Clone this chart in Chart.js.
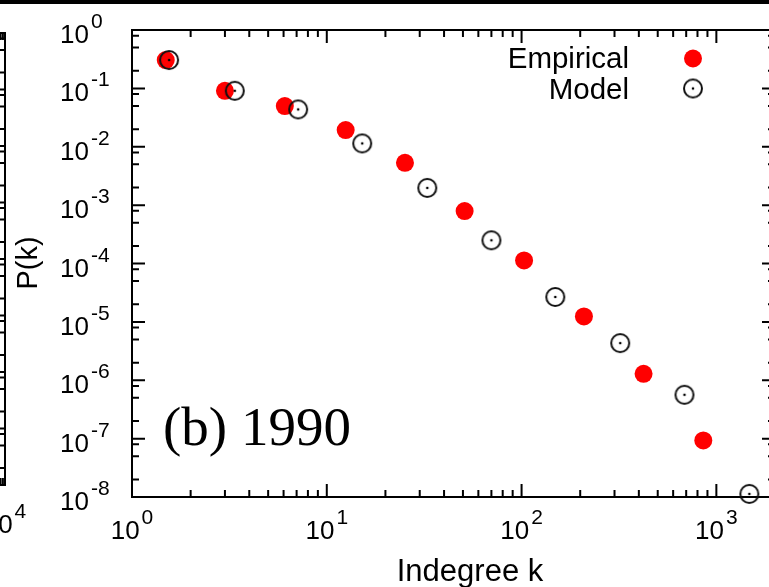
<!DOCTYPE html>
<html>
<head>
<meta charset="utf-8">
<script src="https://cdn.jsdelivr.net/npm/chart.js@4.4.0/dist/chart.umd.min.js"></script>
<style>
  html, body { margin: 0; padding: 0; background: #fff; overflow: hidden; }
  #wrap { position: relative; width: 769px; height: 587px; overflow: hidden; background: #fff; }
  #side { position: absolute; left: -200px; top: 0; }
  #main { position: absolute; left: 0; top: 0; }
</style>
</head>
<body>
<div id="wrap">
  <canvas id="side" width="240" height="587"></canvas>
  <canvas id="main" width="790" height="587"></canvas>
</div>
<script>
// indegree distribution, 1990 snapshot
const empiricalK = [1.49, 3.0, 6.09, 12.5, 25.2, 51, 103, 209, 423, 857]
const empiricalP = [0.306, 0.091, 0.0497, 0.0193, 0.0053, 7.9e-4, 1.13e-4, 1.24e-5, 1.29e-6, 9.3e-8]
const modelK = [1.55, 3.37, 7.13, 15.2, 32.8, 70, 149, 321, 686, 1477]
const modelP = [0.306, 0.091, 0.0436, 0.0114, 1.97e-3, 2.5e-4, 2.67e-5, 4.33e-6, 5.64e-7, 1.13e-8]

const xTickExponents = [0, 1, 2, 3]
const yTickExponents = [0, -1, -2, -3, -4, -5, -6, -7, -8]
const seriesNames = ["Empirical", "Model"]
const panelLabel = "(b) 1990"
const xTitle = "Indegree k"
const yTitle = "P(k)"

// neighbouring panel (only its right edge is in view)
const sideXExponents = [0, 1, 2, 3, 4]
const sideYExponents = [0, -1, -2, -3, -4, -5, -6, -7, -8]

const SANS = '"Liberation Sans", Arial, sans-serif'
const SERIF = '"Liberation Serif", "Times New Roman", serif'

// open circle with a dot in the middle
function makeRing() {
  const c = document.createElement("canvas")
  c.width = 24
  c.height = 24
  const g = c.getContext("2d")
  g.strokeStyle = "#111"
  g.lineWidth = 2
  g.beginPath()
  g.arc(12, 12, 9, 0, Math.PI * 2)
  g.stroke()
  g.fillStyle = "#000"
  g.beginPath()
  g.arc(12, 12, 1.3, 0, Math.PI * 2)
  g.fill()
  return c
}
const ring = makeRing()

function toPoints(xs, ys) {
  return xs.map((k, i) => ({ x: k, y: ys[i] }))
}

// gnuplot style frame: inward ticks on all four sides, 10^n labels
const logFrame = {
  id: "logFrame",
  beforeDatasetsDraw(chart, args, opts) {
    const { ctx, chartArea: a, scales: { x, y } } = chart
    ctx.save()
    ctx.strokeStyle = "#000"
    ctx.lineWidth = 2
    ctx.strokeRect(a.left, a.top, a.right - a.left, a.bottom - a.top)

    const inX = (v) => v > x.min * 1.0001 && v < x.max * 0.9999
    const inY = (v) => v > y.min * 1.0001 && v < y.max * 0.9999

    ctx.beginPath()
    opts.xExp.forEach((e) => {
      const base = Math.pow(10, e)
      const marks = [[base, 13]].concat(opts.xMinor.map((m) => [m * base, 7]))
      marks.forEach(([v, len]) => {
        if (!inX(v)) return
        const px = x.getPixelForValue(v)
        ctx.moveTo(px, a.bottom); ctx.lineTo(px, a.bottom - len)
        ctx.moveTo(px, a.top); ctx.lineTo(px, a.top + len)
      })
    })
    opts.yExp.forEach((e) => {
      const base = Math.pow(10, e)
      const marks = [[base, 13]].concat(opts.yMinor.map((m) => [m * base, 7]))
      marks.forEach(([v, len]) => {
        if (!inY(v)) return
        const py = y.getPixelForValue(v)
        ctx.moveTo(a.left, py); ctx.lineTo(a.left + len, py)
        ctx.moveTo(a.right, py); ctx.lineTo(a.right - len, py)
      })
    })
    ctx.stroke()

    ctx.fillStyle = "#000"
    const bigFont = "26px " + SANS
    const supFont = "21px " + SANS

    opts.xExp.forEach((e) => {
      const px = x.getPixelForValue(Math.pow(10, e))
      ctx.font = bigFont
      const wb = ctx.measureText("10").width
      ctx.font = supFont
      const we = ctx.measureText(String(e)).width
      const start = px - (wb + 2 + we) / 2
      ctx.textAlign = "left"
      ctx.font = bigFont
      ctx.fillText("10", start, a.bottom + opts.xLabelDrop)
      ctx.font = supFont
      ctx.fillText(String(e), start + wb + 2, a.bottom + opts.xLabelDrop - 15)
    })

    opts.yExp.forEach((e) => {
      const py = y.getPixelForValue(Math.pow(10, e))
      ctx.font = bigFont
      ctx.textAlign = "right"
      ctx.fillText("10", a.left - 43, py + 13)
      ctx.font = supFont
      ctx.textAlign = "left"
      ctx.fillText(String(e), a.left - 41, py - 2)
    })
    ctx.restore()
  }
}

// legend, panel label and axis titles
const annotations = {
  id: "annotations",
  afterDraw(chart) {
    const { ctx } = chart
    ctx.save()
    ctx.fillStyle = "#000"
    ctx.fillRect(0, 0, chart.width, 4)

    ctx.font = "29.5px " + SANS
    ctx.textAlign = "right"
    ctx.fillText(seriesNames[0], 629, 68)
    ctx.fillText(seriesNames[1], 629, 99)
    ctx.fillStyle = "#ff0000"
    ctx.beginPath()
    ctx.arc(693, 58.5, 9, 0, Math.PI * 2)
    ctx.fill()
    ctx.drawImage(ring, 693 - 12, 88.5 - 12)

    ctx.fillStyle = "#000"
    ctx.textAlign = "left"
    ctx.font = "55px " + SERIF
    ctx.fillText(panelLabel, 163, 445)

    ctx.font = "31px " + SANS
    ctx.textAlign = "center"
    ctx.fillText(xTitle, 470, 581)

    ctx.font = "29px " + SANS
    ctx.translate(37, 263)
    ctx.rotate(-Math.PI / 2)
    ctx.fillText(yTitle, 0, 0)
    ctx.restore()
  }
}

new Chart(document.getElementById("main"), {
  type: "scatter",
  data: {
    datasets: [
      {
        label: seriesNames[0],
        data: toPoints(empiricalK, empiricalP),
        pointStyle: "circle",
        pointRadius: 9,
        pointHoverRadius: 9,
        pointBackgroundColor: "#ff0000",
        pointBorderWidth: 0,
        clip: false,
        order: 1,
      },
      {
        label: seriesNames[1],
        data: toPoints(modelK, modelP),
        pointStyle: ring,
        pointRadius: 10,
        clip: false,
        order: 0,
      },
    ],
  },
  options: {
    responsive: false,
    animation: false,
    events: [],
    layout: { padding: { left: 132, top: 30, right: 15, bottom: 90 } },
    plugins: {
      legend: { display: false },
      tooltip: { enabled: false },
      logFrame: {
        xExp: xTickExponents,
        yExp: yTickExponents,
        xMinor: [2, 3, 4, 5, 6, 7, 8, 9],
        yMinor: [2, 5, 8],
        xLabelDrop: 41.5,
      },
    },
    scales: {
      x: { type: "logarithmic", display: false, min: 1, max: 2000 },
      y: { type: "logarithmic", display: false, min: 1e-8, max: 1 },
    },
  },
  plugins: [logFrame, annotations],
})

new Chart(document.getElementById("side"), {
  type: "scatter",
  data: { datasets: [] },
  options: {
    responsive: false,
    animation: false,
    events: [],
    layout: { padding: { left: 20, top: 33, right: 35, bottom: 102 } },
    plugins: {
      legend: { display: false },
      tooltip: { enabled: false },
      logFrame: {
        xExp: sideXExponents,
        yExp: sideYExponents,
        xMinor: [2, 3, 4, 5, 6, 7, 8, 9],
        yMinor: [2, 5, 8],
        xLabelDrop: 48,
      },
    },
    scales: {
      x: { type: "logarithmic", display: false, min: 1, max: 10000 },
      y: { type: "logarithmic", display: false, min: 1e-8, max: 1 },
    },
  },
  plugins: [logFrame],
})
</script>
</body>
</html>
